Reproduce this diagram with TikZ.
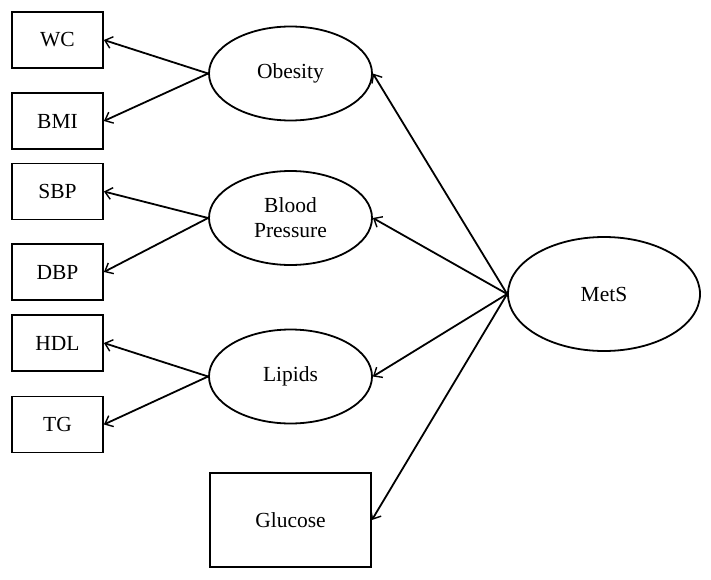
\documentclass[tikz,border=0pt]{standalone}
\usepackage{fontspec}
\setmainfont{Liberation Serif}
\usetikzlibrary{arrows.meta,shapes.geometric}
\begin{document}
\begin{tikzpicture}[x=1pt,y=-1pt,
  obs/.style={draw,line width=1.8pt,minimum width=91pt,minimum height=56pt,inner sep=0pt,font=\fontsize{21.5}{25}\selectfont},
  lat/.style={draw,ellipse,line width=1.8pt,minimum width=163pt,minimum height=94pt,inner sep=0pt,font=\fontsize{21.5}{25}\selectfont,align=center},
  arr/.style={line width=1.8pt,-{Straight Barb[length=7pt,width=12pt,line width=1.4pt]}}]
\useasboundingbox (0,0) rectangle (711,580);
\node[obs] (wc) at (57.5,40) {WC};
\node[obs] (bmi) at (57.5,121) {BMI};
\node[obs] (sbp) at (57.5,191.5) {SBP};
\node[obs] (dbp) at (57.5,272) {DBP};
\node[obs] (hdl) at (57.5,343) {HDL};
\node[obs] (tg) at (57.5,424.5) {TG};
\node[lat] (ob) at (290.5,73.5) {Obesity};
\node[lat] (bp) at (290.5,218) {Blood\\Pressure};
\node[lat] (lip) at (290.5,376.5) {Lipids};
\node[obs,minimum width=161pt,minimum height=94pt] (glu) at (290.5,520) {Glucose};
\node[lat,minimum width=192pt,minimum height=114pt] (mets) at (604,294) {MetS};
\draw[arr] (ob.west) -- (wc.east);
\draw[arr] (ob.west) -- (bmi.east);
\draw[arr] (bp.west) -- (sbp.east);
\draw[arr] (bp.west) -- (dbp.east);
\draw[arr] (lip.west) -- (hdl.east);
\draw[arr] (lip.west) -- (tg.east);
\draw[arr] (mets.west) -- (ob.east);
\draw[arr] (mets.west) -- (bp.east);
\draw[arr] (mets.west) -- (lip.east);
\draw[arr] (mets.west) -- (glu.east);
\end{tikzpicture}
\end{document}
